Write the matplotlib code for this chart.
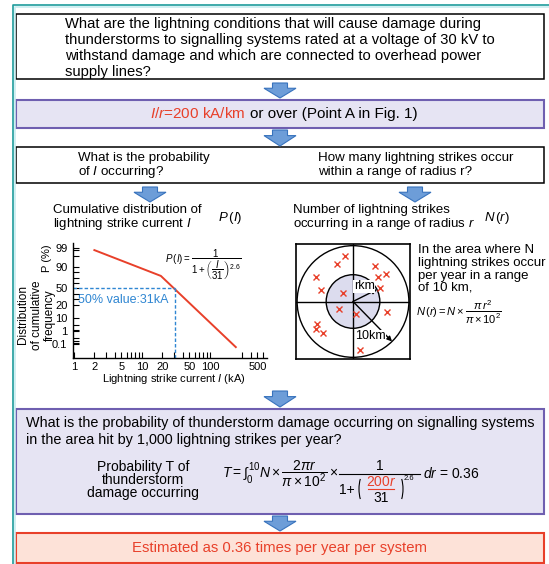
import numpy as np
import matplotlib
matplotlib.use('Agg')
import matplotlib.pyplot as plt
from matplotlib.patches import Rectangle, Polygon, Circle, Arc
from matplotlib.ticker import LogLocator, NullFormatter

plt.rcParams['font.family'] = ['Liberation Sans', 'DejaVu Sans']
plt.rcParams['mathtext.fontset'] = 'custom'
plt.rcParams['mathtext.rm'] = 'Liberation Sans'
plt.rcParams['mathtext.it'] = 'Liberation Sans:italic'
plt.rcParams['mathtext.bf'] = 'Liberation Sans:bold'

# cumulative distribution of lightning current
current_ka = [2, 19, 240]
cum_freq_pct = [98, 73, 0.08]
median_ka = 31
median_pct = 50
x_min = 0.97
x_max = 690
x_ticks = [1, 2, 5, 10, 20, 50, 100, 500]
y_ticks = [0.1, 1, 10, 20, 50, 90, 99]
y_tick_labels = ['0.1', '1', '10', '20', '50', '90', '99']
y_minor = [0.2, 0.3, 0.5, 2, 5, 30, 40, 60, 70, 80, 95, 98]
# probability paper spacing of the y axis (pct -> height above x axis)
paper_pct = [0.01, 0.1, 1, 10, 20, 50, 90, 99, 99.9]
paper_h = [0, 14, 27, 40, 53, 70, 91, 110, 115]

# lightning strikes around the system (km east / north of centre)
strike_east_km = [-1.4, -2.9, 3.9, 5.9, 4.5, -6.6, -5.7, -1.8, 4.8, -2.5, 0.5, 6.1, -6.4, -6.6, -5.4, 1.3]
strike_north_km = [8.2, 6.8, 6.4, 5.0, 4.3, 4.3, 2.1, 1.6, 2.5, -1.4, -2.3, -1.8, -4.1, -5.0, -5.7, -8.6]
area_radius_km = 10
r_km = 4.8

TEAL = '#1e9c9c'
PURPLE = '#6f5fb0'
LAVENDER = '#e6e4f3'
RED = '#e8402a'
PINK = '#fde2d8'
ARROW_FILL = '#6d9dd8'
ARROW_EDGE = '#3873bd'
BLUE = '#2f86d2'
INNER_FILL = '#dcdcee'

fig = plt.figure(figsize=(5.49, 5.64), dpi=100)
ax = fig.add_axes([0, 0, 1, 1])
ax.set_xlim(0, 549)
ax.set_ylim(564, 0)
ax.axis('off')


def box(x0, y0, x1, y1, fc, ec, lw):
    ax.add_patch(Rectangle((x0, y0), x1 - x0, y1 - y0, fc=fc, ec=ec, lw=lw))


def arrow(cx, y0, y1):
    yh = y0 + 0.35 * (y1 - y0)
    pts = [(cx - 7.5, y0), (cx + 7.5, y0), (cx + 7.5, yh), (cx + 16, yh),
           (cx, y1), (cx - 16, yh), (cx - 7.5, yh)]
    ax.add_patch(Polygon(pts, closed=True, fc=ARROW_FILL, ec=ARROW_EDGE, lw=0.8))


def rich_line(x, y, parts, fs):
    # parts: (string, color) ; centred on x
    rend = fig.canvas.get_renderer()
    a = ax.text(0, 0, 'a a', fontsize=fs)
    b = ax.text(0, 0, 'aa', fontsize=fs)
    sp = a.get_window_extent(rend).width - b.get_window_extent(rend).width
    a.remove()
    b.remove()
    texts = [ax.text(0, y, s, color=c, fontsize=fs, va='center', ha='left') for s, c in parts]
    widths = [t.get_window_extent(rend).width for t in texts]
    total = sum(widths) + sp * (len(texts) - 1)
    x0 = x - total / 2
    for t, w in zip(texts, widths):
        t.set_x(x0)
        x0 += w + sp


# outer frame
ax.plot([14.5, 14.5, 549], [564, 6.5, 6.5], color='#c8ecf0', lw=1.2)
ax.plot([13, 13, 549], [564, 5, 5], color=TEAL, lw=1.2)

# boxes
box(16, 14, 544, 79, 'white', 'black', 1.1)
box(16, 100, 544, 128, LAVENDER, PURPLE, 1.5)
box(16, 147, 544, 183, 'white', 'black', 1.1)
box(16, 409, 544, 514, LAVENDER, PURPLE, 1.5)
box(16, 533, 544, 563, PINK, RED, 1.5)

arrow(280, 83, 98)
arrow(280, 130, 146)
arrow(150, 187, 202)
arrow(415, 187, 202)
arrow(280, 391, 407)
arrow(280, 516, 531)

title = ['What are the lightning conditions that will cause damage during',
         'thunderstorms to signalling systems rated at a voltage of 30 kV to',
         'withstand damage and which are connected to overhead power',
         'supply lines?']
for i, line in enumerate(title):
    ax.text(65, 24 + 16 * i, line, fontsize=10.6, va='center', ha='left')

rich_line(284, 114, [(r'$I/r$=200 kA/km', RED), ('or over (Point A in Fig. 1)', 'black')], 11)

ax.text(78, 157.5, 'What is the probability', fontsize=9.6, va='center')
ax.text(78, 171.5, 'of $I$ occurring?', fontsize=9.6, va='center')
ax.text(318, 157.5, 'How many lightning strikes occur', fontsize=9.6, va='center')
ax.text(318, 171.5, 'within a range of radius r?', fontsize=9.6, va='center')

ax.text(53, 210, 'Cumulative distribution of', fontsize=9.5, va='center')
ax.text(53, 224, 'lightning strike current $I$', fontsize=9.5, va='center')
ax.text(218, 218, r'$P\,(I)$', fontsize=9.5, va='center')

ax.text(293, 210, 'Number of lightning strikes', fontsize=9.5, va='center')
ax.text(293, 224, 'occurring in a range of radius $r$', fontsize=9.5, va='center')
ax.text(484, 218, r'$N\,(r)$', fontsize=9.5, va='center')

# cumulative distribution chart
def fwd(p):
    return np.interp(p, paper_pct, paper_h)


def inv(h):
    return np.interp(h, paper_h, paper_pct)


cax = fig.add_axes([73 / 549, 1 - 358 / 564, 194 / 549, 115 / 564])
cax.patch.set_visible(False)
cax.set_xscale('log')
cax.set_yscale('function', functions=(fwd, inv))
cax.set_xlim(x_min, x_max)
cax.set_ylim(paper_pct[0], paper_pct[-1])
cax.plot(current_ka, cum_freq_pct, color=RED, lw=1.4)
cax.plot([x_min, median_ka], [median_pct, median_pct], color=BLUE, lw=1, ls=(0, (2.5, 1.5)))
cax.plot([median_ka, median_ka], [median_pct, paper_pct[0]], color=BLUE, lw=1, ls=(0, (2.5, 1.5)))
cax.set_xticks(x_ticks)
cax.set_xticklabels([str(v) for v in x_ticks])
cax.xaxis.set_minor_locator(LogLocator(subs=(3, 4, 6, 7, 8, 9)))
cax.xaxis.set_minor_formatter(NullFormatter())
cax.set_yticks(y_ticks)
cax.set_yticklabels(y_tick_labels)
cax.set_yticks(y_minor, minor=True)
cax.yaxis.set_minor_formatter(NullFormatter())
cax.tick_params(which='both', direction='in', length=4, width=0.8, labelsize=8)
cax.tick_params(axis='x', pad=3)
cax.tick_params(axis='y', pad=4)
for s in ['top', 'right']:
    cax.spines[s].set_visible(False)
for s in ['left', 'bottom']:
    cax.spines[s].set_linewidth(1.0)

ax.text(78, 300, '50% value:31kA', color=BLUE, fontsize=9, va='center')
ax.text(165, 265, r'$P\,(I)=\dfrac{1}{1+\left(\dfrac{I}{31}\right)^{2.6}}$', fontsize=7, va='center')
ax.text(174, 379, 'Lightning strike current $I$ (kA)', fontsize=8, ha='center', va='center')
ax.text(47, 258, 'P (%)', fontsize=8, rotation=90, ha='center', va='center')
for xx, s in zip([23, 37, 50], ['Distribution', 'of cumulative', 'frequency']):
    ax.text(xx, 315, s, fontsize=8.5, rotation=90, ha='center', va='center')

# strike area diagram
dax = fig.add_axes([296 / 549, 1 - 359 / 564, 114 / 549, 115 / 564])
dax.set_xlim(-10.2, 10.2)
dax.set_ylim(-10.3, 10.3)
dax.set_xticks([])
dax.set_yticks([])
for s in dax.spines.values():
    s.set_linewidth(1.2)
dax.add_patch(Circle((0, 0), area_radius_km, fill=False, ec='black', lw=1))
dax.add_patch(Circle((0, 0), r_km, fc=INNER_FILL, ec='black', lw=1))
dax.axhline(0, color='black', lw=1)
dax.axvline(0, color='black', lw=1)
dax.plot(strike_east_km, strike_north_km, 'x', color=RED, ms=5, mew=1)
a1 = np.deg2rad(26.6)
a2 = np.deg2rad(-45.7)
dax.annotate('', xy=(r_km * np.cos(a1), r_km * np.sin(a1)), xytext=(0, 0),
             arrowprops=dict(arrowstyle='-|>', color='black', lw=1, mutation_scale=7,
                             shrinkA=0, shrinkB=0))
dax.annotate('', xy=(area_radius_km * np.cos(a2), area_radius_km * np.sin(a2)), xytext=(0, 0),
             arrowprops=dict(arrowstyle='-|>', color='black', lw=1, mutation_scale=7,
                             shrinkA=0, shrinkB=0))
dax.text(0.15, 2.7, 'rkm', fontsize=9, va='center', ha='left',
         bbox=dict(fc='white', ec='none', pad=0.3))
dax.text(0.35, -6.2, '10km', fontsize=9, va='center', ha='left',
         bbox=dict(fc='white', ec='none', pad=0.3))

para = ['In the area where N', 'lightning strikes occur', 'per year in a range', 'of 10 km,']
for yy, s in zip([250, 263, 276, 288], para):
    ax.text(418, yy, s, fontsize=9.5, va='center')
ax.text(416, 312, r'$N\,(r)=N\times\dfrac{\pi\,r^2}{\pi\times10^2}$', fontsize=8, va='center')

# probability of damage
ax.text(26, 423, 'What is the probability of thunderstorm damage occurring on signalling systems',
        fontsize=10.4, va='center')
ax.text(26, 440, 'in the area hit by 1,000 lightning strikes per year?', fontsize=10.4, va='center')
for yy, s in zip([467, 480, 493], ['Probability T of', 'thunderstorm', 'damage occurring']):
    ax.text(143, yy, s, fontsize=10, ha='center', va='center')
ax.text(222, 474, r'$T=\int_0^{10}N\times\dfrac{2\pi r}{\pi\times10^2}\times$', fontsize=10, va='center')
ax.text(380, 466, '1', fontsize=10, ha='center', va='center')
ax.plot([339, 420], [474, 474], color='black', lw=0.8)
ax.text(339, 490, '1+', fontsize=10, ha='left', va='center')
ax.add_patch(Arc((365, 489), 12, 32, theta1=115, theta2=245, color='black', lw=0.8))
ax.add_patch(Arc((397, 489), 12, 32, theta1=-65, theta2=65, color='black', lw=0.8))
ax.text(381, 482, '$200r$', fontsize=10, ha='center', va='center', color=RED)
ax.plot([368, 394], [489, 489], color=RED, lw=0.8)
ax.text(381, 498, '31', fontsize=10, ha='center', va='center')
ax.text(404, 478, '2.6', fontsize=5.5, ha='left', va='center')
ax.text(423, 473, r'$dr$ = 0.36', fontsize=10, ha='left', va='center')

ax.text(280, 548, 'Estimated as 0.36 times per year per system', fontsize=10.7, color=RED,
        ha='center', va='center')

fig.savefig('out.png', dpi=100)
